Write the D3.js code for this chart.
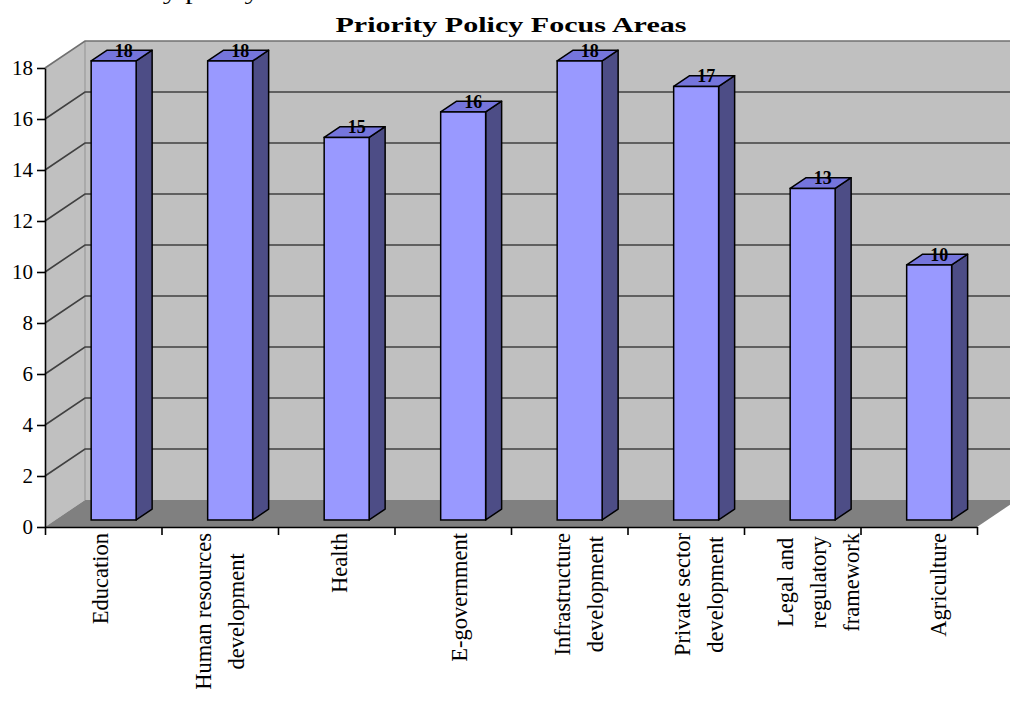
<!DOCTYPE html>
<html>
<head>
<meta charset="utf-8">
<script src="https://cdn.jsdelivr.net/npm/d3@7"></script>
<style>
  html, body { margin: 0; padding: 0; background: #fff; }
  svg { display: block; }
  text { font-family: "Liberation Serif", "Times New Roman", serif; }
</style>
</head>
<body>
<svg id="chart" width="1010" height="702"></svg>
<script>
// Number of mentions per priority policy focus area
const categories = [
  "Education", "Human resources development", "Health", "E-government",
  "Infrastructure development", "Private sector development",
  "Legal and regulatory framework", "Agriculture"
];
const labelLines = [
  ["Education"],
  ["Human resources", "development"],
  ["Health"],
  ["E-government"],
  ["Infrastructure", "development"],
  ["Private sector", "development"],
  ["Legal and", "regulatory", "framework"],
  ["Agriculture"]
];
const values = [18, 18, 15, 16, 18, 17, 13, 10];
const yTicks = [0, 2, 4, 6, 8, 10, 12, 14, 16, 18];
const titleText = "Priority Policy Focus Areas";

const svg = d3.select("#chart");

// plot geometry (3-D box: front plane at the axes, depth offset to the back wall)
const plotL = 45, plotR = 977, plotB = 527, plotT = 68;
const DX = 40, DY = -27;          // depth offset of the back wall
const zFront = 0.26, zBack = 0.66; // bar depth position inside the box

const x = d3.scaleBand().domain(categories).range([plotL, plotR]).padding(0);
const y = d3.scaleLinear().domain([0, 18]).range([plotB, plotT]);
const xTicksScale = d3.scaleLinear().domain([0, categories.length]).range([plotL, plotR]);
const labelX = d3.scalePoint().domain(categories).range([100, 938]);

const pts = p => p.map(d => d.join(",")).join(" ");

// running text of the page above the chart, mostly outside the visible area
svg.append("text")
  .attr("x", 87).attr("y", -1)
  .attr("font-size", 22)
  .attr("transform", "translate(87,0) scale(1.35,1) translate(-87,0)")
  .text("Priority policy focus areas");

// title
svg.append("text")
  .attr("x", 511).attr("y", 32)
  .attr("text-anchor", "middle")
  .attr("font-size", 22).attr("font-weight", "bold")
  .attr("textLength", 351).attr("lengthAdjust", "spacingAndGlyphs")
  .text(titleText);

// walls and floor
const g = svg.append("g");
const wallTop = y(18) + DY;
g.append("rect")
  .attr("x", plotL + DX).attr("y", wallTop)
  .attr("width", 1100).attr("height", y(0) + DY - wallTop)
  .attr("fill", "#c0c0c0");
g.append("polygon")
  .attr("points", pts([[plotL, y(0)], [plotL, y(18)], [plotL + DX, y(18) + DY], [plotL + DX, y(0) + DY]]))
  .attr("fill", "#c0c0c0");
g.append("line")
  .attr("x1", plotL + DX).attr("x2", plotL + DX)
  .attr("y1", wallTop).attr("y2", y(0) + DY)
  .attr("stroke", "#9a9a9a").attr("stroke-width", 1.2);
g.append("polygon")
  .attr("points", pts([[plotL, y(0)], [plotR, y(0)], [plotR + DX, y(0) + DY], [plotL + DX, y(0) + DY]]))
  .attr("fill", "#808080");

// gridlines: diagonal on the side wall, horizontal on the back wall
yTicks.filter(v => v > 0).forEach(v => {
  g.append("polyline")
    .attr("points", pts([[plotL, y(v)], [plotL + DX, y(v) + DY], [1100, y(v) + DY]]))
    .attr("fill", "none")
    .attr("stroke", v === 18 ? "#707070" : "#404040")
    .attr("stroke-width", 1.6);
});

// bars
const barW = x.bandwidth() * 0.386;
const ddx = DX * (zBack - zFront), ddy = DY * (zBack - zFront);
const bars = svg.append("g").selectAll("g").data(categories).join("g");
bars.each(function (c, i) {
  const sel = d3.select(this);
  const cx = x(c) + x.bandwidth() / 2;
  const xl = cx + DX * zFront - barW / 2, xr = xl + barW;
  const yb = y(0) + DY * zFront, yt = y(values[i]) + DY * zFront;
  sel.append("polygon")
    .attr("points", pts([[xr, yt], [xr + ddx, yt + ddy], [xr + ddx, yb + ddy], [xr, yb]]))
    .attr("fill", "#4d4d86").attr("stroke", "#000").attr("stroke-width", 1.5)
    .attr("stroke-linejoin", "round");
  sel.append("polygon")
    .attr("points", pts([[xl, yt], [xl + ddx, yt + ddy], [xr + ddx, yt + ddy], [xr, yt]]))
    .attr("fill", "#7575dc").attr("stroke", "#000").attr("stroke-width", 1.5)
    .attr("stroke-linejoin", "round");
  sel.append("rect")
    .attr("x", xl).attr("y", yt).attr("width", barW).attr("height", yb - yt)
    .attr("fill", "#9999ff").attr("stroke", "#000").attr("stroke-width", 1.5);
  sel.append("text")
    .attr("x", xl + barW / 2 + ddx / 2 + 2).attr("y", yt + ddy / 2 + 1)
    .attr("text-anchor", "middle")
    .attr("font-size", 18).attr("font-weight", "bold")
    .text(values[i]);
});

// y axis
const yAxis = svg.append("g")
  .attr("transform", `translate(${plotL},0)`)
  .call(d3.axisLeft(y).tickValues(yTicks).tickSize(8).tickSizeOuter(0).tickPadding(4));
yAxis.selectAll("text").attr("font-size", 21).attr("font-family", "Liberation Serif, serif").attr("fill", "#000");
yAxis.selectAll("line, path").attr("stroke", "#000").attr("stroke-width", 1.6);

// x axis with ticks at the category boundaries
const xAxis = svg.append("g")
  .attr("transform", `translate(0,${plotB})`)
  .call(d3.axisBottom(xTicksScale).ticks(categories.length).tickSize(8).tickSizeOuter(0).tickFormat(""));
xAxis.selectAll("line, path").attr("stroke", "#000").attr("stroke-width", 1.6);

// rotated category labels
const lineGap = 33;
const lab = svg.append("g");
categories.forEach((c, i) => {
  const lines = labelLines[i];
  const grp = lab.append("g");
  const texts = lines.map(t => grp.append("text")
    .attr("font-size", 22.5)
    .attr("text-anchor", "middle")
    .attr("dominant-baseline", "central")
    .text(t));
  const maxLen = d3.max(texts, t => t.node().getComputedTextLength());
  const cy = 533 + maxLen / 2;
  const cx0 = labelX(c) - (lines.length - 1) * lineGap / 2;
  texts.forEach((t, k) => {
    const tx = cx0 + k * lineGap;
    t.attr("transform", `translate(${tx},${cy}) rotate(-90)`);
  });
});
</script>
</body>
</html>
